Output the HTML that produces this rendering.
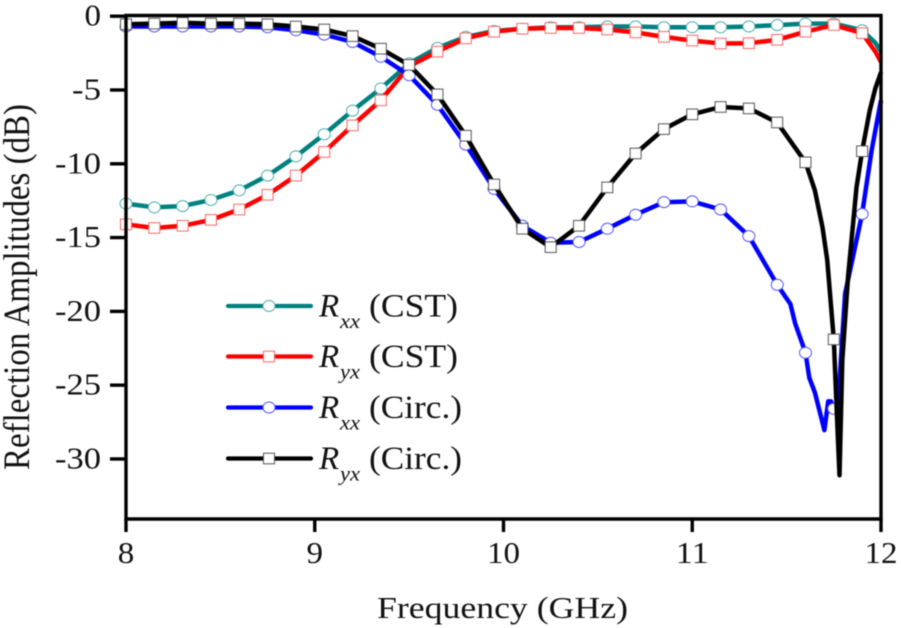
<!DOCTYPE html>
<html lang="en">
<head>
<meta charset="utf-8">
<title>Reflection Amplitudes vs Frequency</title>
<style>
html,body{margin:0;padding:0;background:#fff;width:901px;height:628px;overflow:hidden}
svg{display:block}
text{font-family:"Liberation Serif","Times New Roman",serif;fill:#111}
</style>
</head>
<body>
<svg id="chart" xmlns="http://www.w3.org/2000/svg" width="901" height="628" viewBox="0 0 901 628">
<g id="soft" style="filter:blur(0.45px)">
<g id="series-layer"></g>
<g id="axis-layer"></g>
<g id="legend-layer"></g>
<text x="377" y="618" font-size="31" textLength="251" lengthAdjust="spacingAndGlyphs">Frequency (GHz)</text>
<text transform="translate(29,470) rotate(-90)" font-size="37" textLength="366" lengthAdjust="spacingAndGlyphs">Reflection Amplitudes (dB)</text>
</g>
</svg>
<script>
// Shared frequency grid of the plot markers (GHz)
const markerFreqs = [8, 8.15, 8.3, 8.45, 8.6, 8.75, 8.9, 9.05, 9.2, 9.35, 9.5, 9.65, 9.8, 9.95, 10.1, 10.25, 10.4, 10.55, 10.7, 10.85, 11, 11.15, 11.3, 11.45, 11.6, 11.75, 11.9];

// Series values at the markers (dB)
const rxxCstValues = [-12.7, -12.95, -12.87, -12.45, -11.8, -10.8, -9.5, -8.0, -6.4, -4.9, -3.2, -2.15, -1.4, -1.0, -0.85, -0.75, -0.75, -0.7, -0.7, -0.75, -0.75, -0.75, -0.7, -0.6, -0.5, -0.5, -0.95];
const ryxCstValues = [-14.1, -14.35, -14.2, -13.8, -13.1, -12.1, -10.8, -9.2, -7.4, -5.7, -3.4, -2.4, -1.5, -1.05, -0.85, -0.8, -0.8, -0.9, -1.1, -1.4, -1.65, -1.85, -1.83, -1.6, -1.05, -0.6, -1.15];
const rxxCircValues = [-0.7, -0.7, -0.7, -0.7, -0.7, -0.75, -0.95, -1.25, -1.75, -2.75, -4.0, -6.0, -8.7, -11.7, -14.2, -15.35, -15.3, -14.4, -13.45, -12.6, -12.55, -13.1, -14.9, -18.2, -22.8, -26.6, -13.4];
const ryxCircValues = [-0.55, -0.5, -0.45, -0.5, -0.5, -0.55, -0.7, -0.9, -1.35, -2.2, -3.3, -5.3, -8.1, -11.4, -14.4, -15.65, -14.2, -11.6, -9.3, -7.65, -6.65, -6.15, -6.25, -7.2, -9.9, -21.9, -9.15];

// Additional curve samples between markers
const rxxCstExtraFreqs = [11.97, 12];
const rxxCstExtraValues = [-1.8, -2.4];
const ryxCstExtraFreqs = [11.97, 12];
const ryxCstExtraValues = [-2.4, -3.1];
const rxxCircExtraFreqs = [11.52, 11.545, 11.62, 11.65, 11.7, 11.72, 11.735, 11.77, 11.785, 11.81, 11.95, 12];
const rxxCircExtraValues = [-19.5, -20.8, -24.5, -25.5, -28.05, -26.1, -26.1, -27, -23.8, -18.8, -9.1, -5.7];
const ryxCircExtraFreqs = [11.65, 11.69, 11.715, 11.765, 11.78, 11.795, 11.825, 11.87, 11.94, 11.97, 12];
const ryxCircExtraValues = [-11.8, -14.3, -16.5, -26.5, -31.1, -23.3, -17.7, -11.6, -6.4, -4.9, -3.8];

// Axis ticks
const xTickValues = [8, 9, 10, 11, 12];
const xTickLabels = ['8', '9', '10', '11', '12'];
const yTickValues = [0, -5, -10, -15, -20, -25, -30];
const yTickLabels = ['0', '-5', '-10', '-15', '-20', '-25', '-30'];

// Axis domains
const xDomain = [8, 12];
const yDomain = [0, -34];

const NS = 'http://www.w3.org/2000/svg';
const xScale = f => 126 + (f - xDomain[0]) / (xDomain[1] - xDomain[0]) * 755;
const yScale = v => 16.2 + (v - yDomain[0]) / (yDomain[1] - yDomain[0]) * 501.8;

function make(tag, attrs, parent) {
  const el = document.createElementNS(NS, tag);
  for (const k in attrs) el.setAttribute(k, attrs[k]);
  parent.appendChild(el);
  return el;
}

const seriesLayer = document.getElementById('series-layer');
const axisLayer = document.getElementById('axis-layer');
const legendLayer = document.getElementById('legend-layer');

function drawMarker(shape, cx, cy, edge, parent) {
  let m;
  if (shape === 'circle') {
    m = make('ellipse', {cx: cx, cy: cy, rx: 6.0, ry: 5.5, fill: '#fff', stroke: edge, 'stroke-width': 1}, parent);
  } else {
    m = make('rect', {x: cx - 5.5, y: cy - 5.3, width: 11, height: 10.6, fill: '#fff', stroke: edge, 'stroke-width': 1}, parent);
  }
  return m;
}

function drawSeries(name, values, extraF, extraV, color, edge, shape) {
  const g = make('g', {}, seriesLayer);
  
  
  const pts = markerFreqs.map((f, i) => [f, values[i]]);
  extraF.forEach((f, i) => pts.push([f, extraV[i]]));
  pts.sort((a, b) => a[0] - b[0]);
  const d = pts.map((p, i) => (i ? 'L' : 'M') + xScale(p[0]).toFixed(1) + ' ' + yScale(p[1]).toFixed(1)).join(' ');
  const line = make('path', {d: d, fill: 'none', stroke: color, 'stroke-width': 4.5, 'stroke-linejoin': 'round'}, g);
  
  
  markerFreqs.forEach((f, i) => {
    const m = drawMarker(shape, xScale(f), yScale(values[i]), edge, g);
    
    
  });
}

drawSeries('rxx-cst-series', rxxCstValues, rxxCstExtraFreqs, rxxCstExtraValues, '#008080', '#4db0ae', 'circle');
drawSeries('ryx-cst-series', ryxCstValues, ryxCstExtraFreqs, ryxCstExtraValues, '#ff0000', '#ff6666', 'rect');
drawSeries('rxx-circ-series', rxxCircValues, rxxCircExtraFreqs, rxxCircExtraValues, '#0000ff', '#5555ff', 'circle');
drawSeries('ryx-circ-series', ryxCircValues, ryxCircExtraFreqs, ryxCircExtraValues, '#000000', '#555555', 'rect');

// Axes frame
const frame = make('path', {d: 'M126 15.5 H881 V519 H126 Z', fill: 'none', stroke: '#000', 'stroke-width': 3.4}, axisLayer);



xTickValues.forEach((v, i) => {
  const x = xScale(v);
  const t = make('line', {x1: x, x2: x, y1: 519, y2: 532, stroke: '#000', 'stroke-width': 3.4}, axisLayer);
  
  
  const s = xTickLabels[i];
  const l = make('text', {x: x, y: 563, 'font-size': 31, 'text-anchor': 'middle', textLength: s.length * 16.5, lengthAdjust: 'spacingAndGlyphs'}, axisLayer);
  l.textContent = s;
  
  
});

yTickValues.forEach((v, i) => {
  const y = yScale(v);
  const t = make('line', {x1: 110, x2: 126, y1: y, y2: y, stroke: '#000', 'stroke-width': 3.4}, axisLayer);
  
  
  const s = yTickLabels[i];
  const w = s.length === 1 ? 16.5 : s.length === 2 ? 29 : 46;
  const l = make('text', {x: 101, y: y + 9.5, 'font-size': 31, 'text-anchor': 'end', textLength: w, lengthAdjust: 'spacingAndGlyphs'}, axisLayer);
  l.textContent = s;
  
  
});

// Legend
const legendNames = ['R', 'R', 'R', 'R'];
const legendSubs = ['xx', 'yx', 'xx', 'yx'];
const legendTags = ['(CST)', '(CST)', '(Circ.)', '(Circ.)'];
const legendTagWidths = [89, 89, 93, 93];
const legendColors = ['#008080', '#ff0000', '#0000ff', '#000000'];
const legendEdges = ['#4db0ae', '#ff6666', '#5555ff', '#555555'];
const legendShapes = ['circle', 'rect', 'circle', 'rect'];
const legendRows = [306, 356.5, 407.5, 458.5];

legendNames.forEach((n, i) => {
  const y = legendRows[i];
  const g = make('g', {}, legendLayer);
  
  
  make('line', {x1: 228, x2: 311, y1: y, y2: y, stroke: legendColors[i], 'stroke-width': 4.2, 'stroke-linecap': 'round'}, g);
  drawMarker(legendShapes[i], 269, y, legendEdges[i], g);
  const r = make('text', {x: 319, y: y + 10.5, 'font-size': 33, 'font-style': 'italic'}, g);
  r.textContent = n;
  const sub = make('text', {x: 340, y: y + 22, 'font-size': 20, 'font-style': 'italic', textLength: 20, lengthAdjust: 'spacingAndGlyphs'}, g);
  sub.textContent = legendSubs[i];
  const tag = make('text', {x: 369, y: y + 10.5, 'font-size': 33, textLength: legendTagWidths[i], lengthAdjust: 'spacingAndGlyphs'}, g);
  tag.textContent = legendTags[i];
});
</script>
</body>
</html>
